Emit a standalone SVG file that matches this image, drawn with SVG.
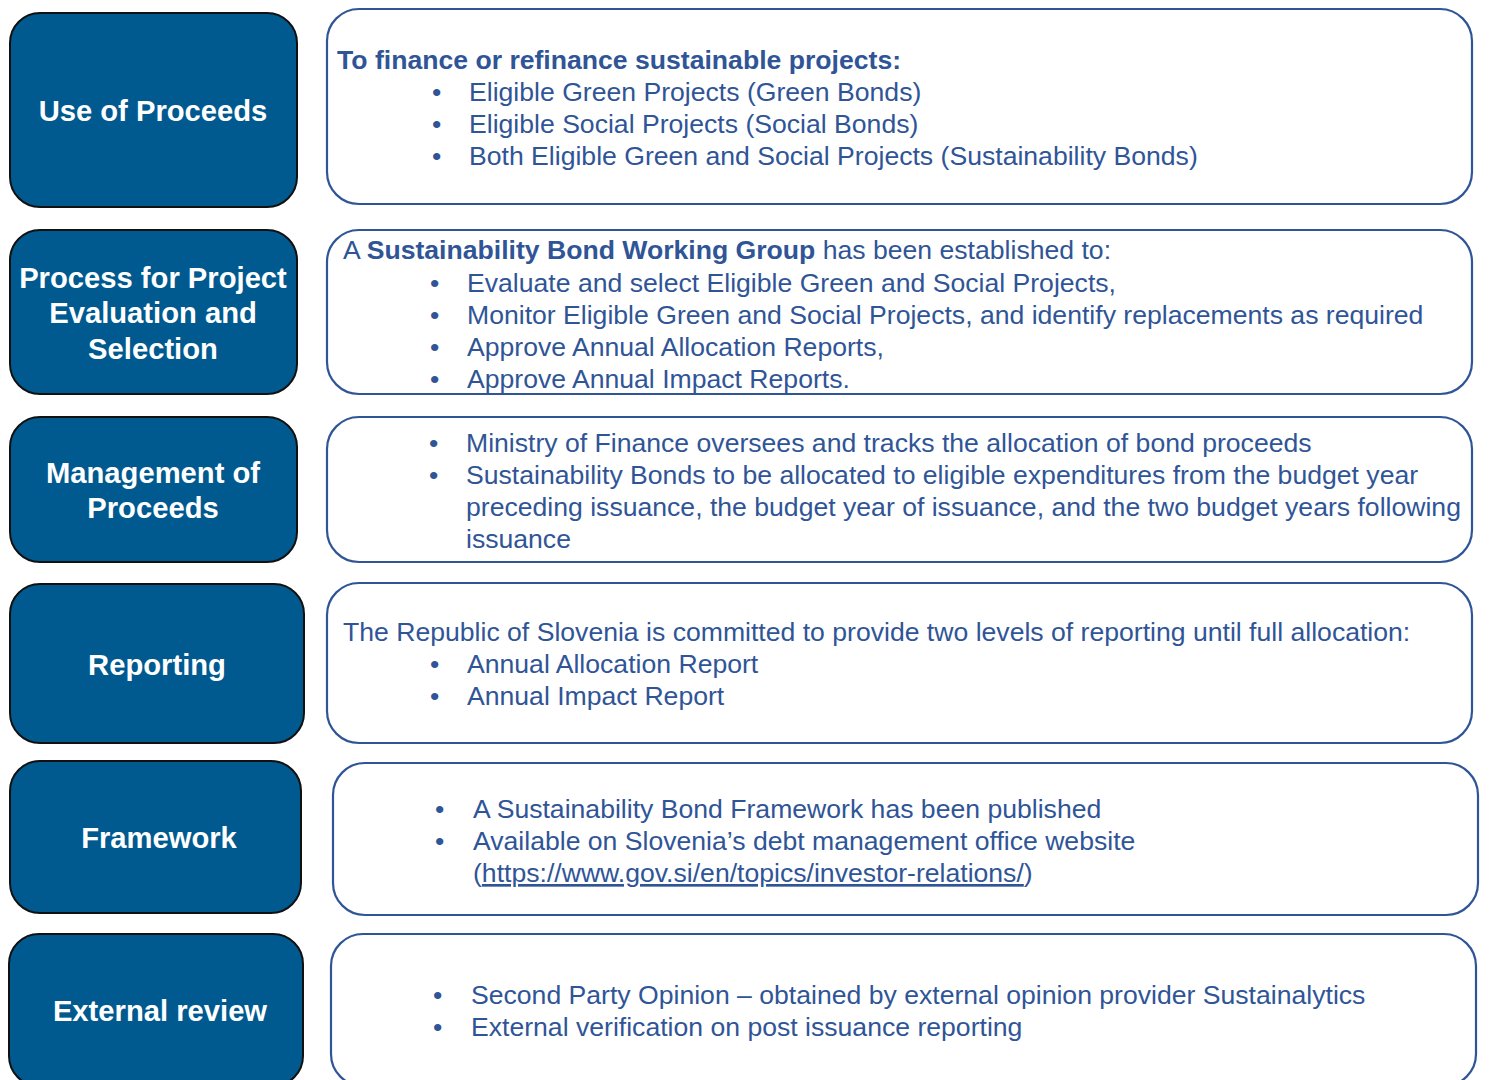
<svg xmlns="http://www.w3.org/2000/svg" width="1506" height="1080" viewBox="0 0 1506 1080">
<style>
.lb{fill:#005A8F;stroke:#111;stroke-width:2}
.rb{fill:#fff;stroke:#2F5597;stroke-width:2.2}
.lt{font-family:"Liberation Sans",Arial,sans-serif;font-weight:bold;font-size:29.2px;fill:#fff;text-anchor:middle}
.rt{font-family:"Liberation Sans",Arial,sans-serif;font-size:26.6px;fill:#2F5597}
.b{font-weight:bold}
</style>
<rect width="1506" height="1080" fill="#fff"/>
<g id="node-use-of-proceeds">
<rect class="lb" x="10" y="13" width="287" height="194" rx="30"/>
<text class="lt" x="153" y="121">Use of Proceeds</text>
</g>
<g id="desc-use-of-proceeds">
<rect class="rb" x="327" y="9" width="1145" height="195" rx="32"/>
<text class="rt b" x="337" y="69">To finance or refinance sustainable projects:</text>
<text class="rt" x="432" y="101">•</text><text class="rt" x="469" y="101">Eligible Green Projects (Green Bonds)</text>
<text class="rt" x="432" y="133">•</text><text class="rt" x="469" y="133">Eligible Social Projects (Social Bonds)</text>
<text class="rt" x="432" y="165">•</text><text class="rt" x="469" y="165">Both Eligible Green and Social Projects (Sustainability Bonds)</text>
</g>
<g id="node-process">
<rect class="lb" x="10" y="230" width="287" height="164" rx="30"/>
<text class="lt" x="153" y="288">Process for Project</text>
<text class="lt" x="153" y="323">Evaluation and</text>
<text class="lt" x="153" y="359">Selection</text>
</g>
<g id="desc-process">
<rect class="rb" x="327" y="230" width="1145" height="164" rx="32"/>
<text class="rt" x="343" y="259">A <tspan class="b">Sustainability Bond Working Group</tspan> has been established to:</text>
<text class="rt" x="430" y="292">•</text><text class="rt" x="467" y="292">Evaluate and select Eligible Green and Social Projects,</text>
<text class="rt" x="430" y="324">•</text><text class="rt" x="467" y="324">Monitor Eligible Green and Social Projects, and identify replacements as required</text>
<text class="rt" x="430" y="356">•</text><text class="rt" x="467" y="356">Approve Annual Allocation Reports,</text>
<text class="rt" x="430" y="388">•</text><text class="rt" x="467" y="388">Approve Annual Impact Reports.</text>
</g>
<g id="node-management">
<rect class="lb" x="10" y="417" width="287" height="145" rx="30"/>
<text class="lt" x="153" y="483">Management of</text>
<text class="lt" x="153" y="518">Proceeds</text>
</g>
<g id="desc-management">
<rect class="rb" x="327" y="417" width="1145" height="145" rx="32"/>
<text class="rt" x="429" y="452">•</text><text class="rt" x="466" y="452">Ministry of Finance oversees and tracks the allocation of bond proceeds</text>
<text class="rt" x="429" y="484">•</text><text class="rt" x="466" y="484">Sustainability Bonds to be allocated to eligible expenditures from the budget year</text>
<text class="rt" x="466" y="516">preceding issuance, the budget year of issuance, and the two budget years following</text>
<text class="rt" x="466" y="548">issuance</text>
</g>
<g id="node-reporting">
<rect class="lb" x="10" y="584" width="294" height="159" rx="30"/>
<text class="lt" x="157" y="675">Reporting</text>
</g>
<g id="desc-reporting">
<rect class="rb" x="327" y="583" width="1145" height="160" rx="32"/>
<text class="rt" x="343" y="641">The Republic of Slovenia is committed to provide two levels of reporting until full allocation:</text>
<text class="rt" x="430" y="673">•</text><text class="rt" x="467" y="673">Annual Allocation Report</text>
<text class="rt" x="430" y="705">•</text><text class="rt" x="467" y="705">Annual Impact Report</text>
</g>
<g id="node-framework">
<rect class="lb" x="10" y="761" width="291" height="152" rx="30"/>
<text class="lt" x="159" y="848">Framework</text>
</g>
<g id="desc-framework">
<rect class="rb" x="333" y="763" width="1145" height="152" rx="32"/>
<text class="rt" x="435" y="818">•</text><text class="rt" x="473" y="818">A Sustainability Bond Framework has been published</text>
<text class="rt" x="435" y="850">•</text><text class="rt" x="473" y="850">Available on Slovenia’s debt management office website</text>
<text class="rt" x="473" y="882">(<tspan text-decoration="underline">https://www.gov.si/en/topics/investor-relations/</tspan>)</text>
</g>
<g id="node-external-review">
<rect class="lb" x="9" y="934" width="294" height="152" rx="30"/>
<text class="lt" x="160" y="1021">External review</text>
</g>
<g id="desc-external-review">
<rect class="rb" x="331" y="934" width="1145" height="152" rx="32"/>
<text class="rt" x="433" y="1004">•</text><text class="rt" x="471" y="1004">Second Party Opinion – obtained by external opinion provider Sustainalytics</text>
<text class="rt" x="433" y="1036">•</text><text class="rt" x="471" y="1036">External verification on post issuance reporting</text>
</g>
<g id="connectors"></g>
</svg>
